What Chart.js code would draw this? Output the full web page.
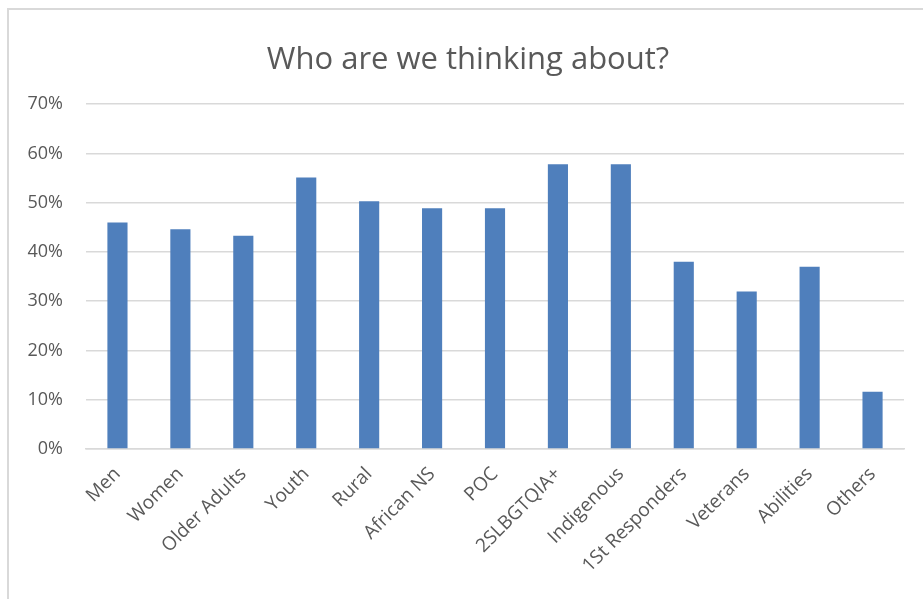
<!DOCTYPE html>
<html>
<head>
<meta charset="utf-8">
<script src="https://cdn.jsdelivr.net/npm/chart.js@4.4.0/dist/chart.umd.min.js"></script>
<style>
  html, body { margin: 0; padding: 0; background: #fff; }
  #frame { position: absolute; left: 7px; top: 8px; width: 1000px; height: 1000px;
           border-top: 2px solid #d9d9d9; border-left: 2px solid #d9d9d9; }
  #wrap { position: absolute; left: 0; top: 0; width: 923px; height: 599px; }
</style>
</head>
<body>
<div id="frame"></div>
<div id="wrap"><canvas id="chart" width="923" height="599"></canvas></div>
<script>
const categories = ["Men", "Women", "Older Adults", "Youth", "Rural", "African NS", "POC",
  "2SLBGTQIA+", "Indigenous", "1St Responders", "Veterans", "Abilities", "Others"];
const shares = [46.0, 44.6, 43.3, 55.1, 50.3, 48.9, 48.9, 57.8, 57.8, 38.0, 32.0, 37.0, 11.6];
const yTicks = [0, 10, 20, 30, 40, 50, 60, 70];

const textColor = "#595959";
const gridColor = "#d9d9d9";
const barColor = "#4f7fbc";

// the original frame is wider than the picture, so its title sits a bit right of centre
const shiftTitle = {
  id: "shiftTitle",
  afterLayout(chart) {
    const t = chart.titleBlock;
    if (t) { t.left += 16; t.right += 16; }
  }
};

const ctx = document.getElementById("chart").getContext("2d");
new Chart(ctx, {
  type: "bar",
  data: {
    labels: categories,
    datasets: [{
      data: shares,
      backgroundColor: barColor,
      categoryPercentage: 1,
      barPercentage: 0.32
    }]
  },
  plugins: [shiftTitle],
  options: {
    responsive: false,
    animation: false,
    layout: {padding: {left: 0, right: 19, top: 0, bottom: 0}},
    plugins: {
      legend: {display: false},
      tooltip: {enabled: false},
      title: {
        display: true,
        text: "Who are we thinking about?",
        color: textColor,
        font: {family: "Open Sans", size: 31, weight: "normal"},
        padding: {top: 42, bottom: 25}
      }
    },
    scales: {
      x: {
        grid: {display: false, drawTicks: false},
        border: {color: gridColor, width: 1.5},
        ticks: {
          color: textColor,
          font: {family: "Open Sans", size: 19},
          minRotation: 45,
          maxRotation: 45,
          padding: 14
        },
        afterFit: (scale) => { scale.height = 150; }
      },
      y: {
        min: 0,
        max: 70,
        afterBuildTicks: (scale) => { scale.ticks = yTicks.map(v => ({value: v})); },
        grid: {color: gridColor, lineWidth: 1.5, drawTicks: false},
        border: {display: false},
        ticks: {
          color: textColor,
          font: {family: "Open Sans", size: 18},
          padding: 23,
          callback: (v) => v + "%"
        },
        afterFit: (scale) => { scale.width = 86; }
      }
    }
  }
});
</script>
</body>
</html>
